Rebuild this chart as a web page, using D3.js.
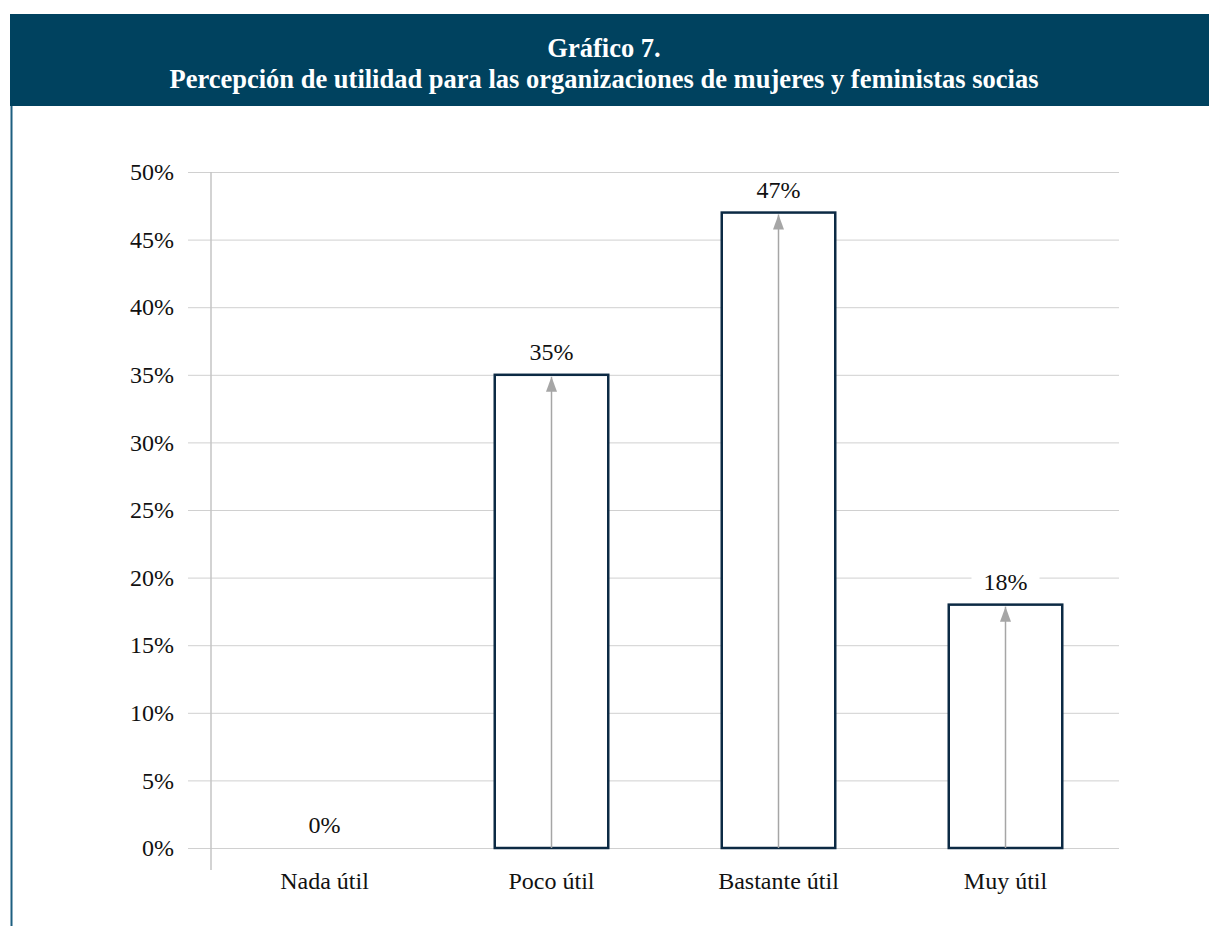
<!DOCTYPE html>
<html>
<head>
<meta charset="utf-8">
<script src="https://cdnjs.cloudflare.com/ajax/libs/d3/7.8.5/d3.min.js"></script>
<style>
    body { margin: 0; background: #fff; }
    svg { display: block; font-family: "Liberation Serif", "DejaVu Serif", serif; }
</style>
</head>
<body>
<script>
// categorías y porcentajes
var categories = ['Nada útil', 'Poco útil', 'Bastante útil', 'Muy útil'];
var values = [0, 35, 47, 18];
var yTicks = [0, 5, 10, 15, 20, 25, 30, 35, 40, 45, 50];
var titleLines = ['Gráfico 7.', 'Percepción de utilidad para las organizaciones de mujeres y feministas socias'];

var width = 1209, height = 926;
var plot = { left: 211, right: 1119, top: 172, bottom: 848 };
var serif = '"Liberation Serif", "DejaVu Serif", serif';

var svg = d3.select('body').append('svg')
    .attr('width', width)
    .attr('height', height);

// cabecera
svg.append('rect')
    .attr('x', 10).attr('y', 14)
    .attr('width', width - 10).attr('height', 92)
    .attr('fill', '#00425f');

svg.append('line')
    .attr('x1', 11.5).attr('x2', 11.5)
    .attr('y1', 106).attr('y2', height)
    .attr('stroke', '#1d5f80').attr('stroke-width', 2);

svg.selectAll('.title')
    .data(titleLines)
    .enter()
    .append('text')
    .attr('class', 'title')
    .attr('x', 604)
    .attr('y', function(d, i){ return 57 + i * 31; })
    .attr('text-anchor', 'middle')
    .attr('fill', '#fff')
    .attr('font-family', serif)
    .attr('font-weight', 'bold')
    .attr('font-size', 26.5)
    .text(function(d){ return d; });

var xScale = d3.scaleBand()
    .domain(categories)
    .range([plot.left, plot.right])
    .paddingInner(0.5)
    .paddingOuter(0.25);

var yScale = d3.scaleLinear()
    .domain([0, 50])
    .range([plot.bottom, plot.top]);

// líneas de cuadrícula
var yAxis = d3.axisLeft(yScale)
    .tickValues(yTicks)
    .tickSize(-(plot.right - plot.left) - 23)
    .tickPadding(14)
    .tickFormat(function(d){ return d + '%'; });

var gy = svg.append('g')
    .attr('transform', 'translate(' + (plot.left - 23) + ',0)')
    .call(yAxis)
    .attr('font-family', serif);
gy.select('.domain').remove();
gy.selectAll('.tick line')
    .attr('stroke', '#d0d0d0')
    .attr('stroke-width', 1);
gy.selectAll('.tick text')
    .attr('fill', '#111')
    .attr('font-size', 24);

// eje vertical
svg.append('line')
    .attr('x1', plot.left).attr('x2', plot.left)
    .attr('y1', plot.top).attr('y2', plot.bottom + 22)
    .attr('stroke', '#c4c4c4').attr('stroke-width', 1.5);

// eje x sin línea
var xAxis = d3.axisBottom(xScale).tickSize(0).tickPadding(24);
var gx = svg.append('g')
    .attr('transform', 'translate(0,' + plot.bottom + ')')
    .call(xAxis)
    .attr('font-family', serif);
gx.select('.domain').remove();
gx.selectAll('.tick text')
    .attr('fill', '#111')
    .attr('font-size', 24);

var data = categories.map(function(c, i){ return { cat: c, value: values[i] }; });
var shown = data.filter(function(d){ return d.value > 0; });

// barras
svg.selectAll('.bar')
    .data(shown)
    .enter()
    .append('rect')
    .attr('class', 'bar')
    .attr('x', function(d){ return xScale(d.cat); })
    .attr('y', function(d){ return yScale(d.value); })
    .attr('width', xScale.bandwidth())
    .attr('height', function(d){ return yScale(0) - yScale(d.value); })
    .attr('fill', '#fff')
    .attr('stroke', '#0c2a44')
    .attr('stroke-width', 2.5);

// flechas
svg.selectAll('.arrow')
    .data(shown)
    .enter()
    .append('line')
    .attr('class', 'arrow')
    .attr('x1', function(d){ return xScale(d.cat) + xScale.bandwidth() / 2; })
    .attr('x2', function(d){ return xScale(d.cat) + xScale.bandwidth() / 2; })
    .attr('y1', yScale(0))
    .attr('y2', function(d){ return yScale(d.value) + 2; })
    .attr('stroke', '#a6a6a6')
    .attr('stroke-width', 1.5);

svg.selectAll('.arrowhead')
    .data(shown)
    .enter()
    .append('path')
    .attr('class', 'arrowhead')
    .attr('transform', function(d){
        return 'translate(' + (xScale(d.cat) + xScale.bandwidth() / 2) + ',' + (yScale(d.value) + 2) + ')';
    })
    .attr('d', 'M0,0 L-5.5,15 L5.5,15 Z')
    .attr('fill', '#a6a6a6');

// etiquetas de valor con fondo blanco
var labels = svg.selectAll('.vlabel')
    .data(data)
    .enter()
    .append('g')
    .attr('class', 'vlabel')
    .attr('transform', function(d){
        return 'translate(' + (xScale(d.cat) + xScale.bandwidth() / 2) + ',' + (yScale(d.value) - 23) + ')';
    });

labels.append('rect')
    .attr('x', -34).attr('y', -15)
    .attr('width', 68).attr('height', 30)
    .attr('fill', '#fff');

labels.append('text')
    .attr('text-anchor', 'middle')
    .attr('dy', '0.35em')
    .attr('fill', '#111')
    .attr('font-family', serif)
    .attr('font-size', 24)
    .text(function(d){ return d.value + '%'; });
</script>
</body>
</html>
